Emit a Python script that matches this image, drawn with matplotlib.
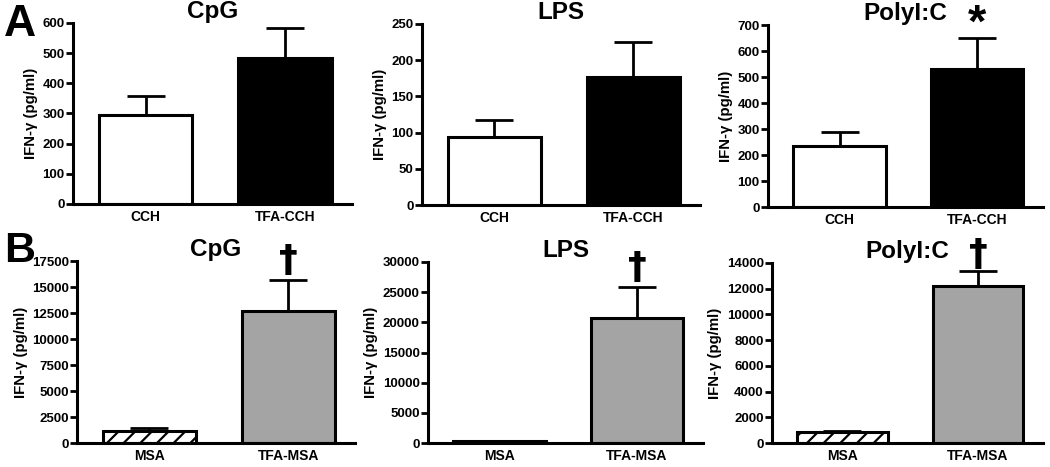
import numpy as np
import matplotlib
matplotlib.use('Agg')
import matplotlib.pyplot as plt

plt.rcParams['font.family'] = ['Liberation Sans', 'DejaVu Sans']
plt.rcParams['font.weight'] = 'bold'
plt.rcParams['hatch.linewidth'] = 1.6

# 데이터
titles = ['CpG', 'LPS', 'PolyI:C']
groups_a = ['CCH', 'TFA-CCH']
groups_b = ['MSA', 'TFA-MSA']

mean_a = [[295, 485], [94, 177], [233, 530]]
err_top_a = [[357, 583], [117, 225], [290, 651]]
ymax_a = [600, 250, 700]
ystep_a = [100, 50, 100]
mark_a = ['', '', '*']

mean_b = [[1200, 12700], [250, 20700], [850, 12200]]
err_top_b = [[1470, 15700], [300, 25800], [960, 13400]]
ymax_b = [17500, 30000, 14000]
ystep_b = [2500, 5000, 2000]
mark_b = ['†', '†', '†']

W, H = 1050, 467
fig = plt.figure(figsize=(10.5, 4.67), dpi=100)

# 축 위치 (픽셀: left, right, top, bottom)
boxes_a = [(73, 352, 23, 204), (422, 700, 24, 205), (768, 1043, 25, 207)]
boxes_b = [(77, 355, 261, 443), (428, 703, 262, 443), (772, 1043, 263, 443)]
# 기호 위치 (ymax 비율)
off_a = [0, 0, 0.07]
off_b = [0.105, 0.105, 0.085]


def draw_panel(box, title, groups, means, tops, ymax, ystep, mark, off, row):
    l, r, t, b = box
    ax = fig.add_axes([l / W, 1 - b / H, (r - l) / W, (b - t) / H])
    x = np.arange(len(groups))
    if row == 'A':
        colors = ['white', 'black']
        hatches = [None, None]
    else:
        colors = ['white', '#a4a4a4']
        hatches = ['//', None]
    for i in range(len(groups)):
        ax.bar(x[i], means[i], width=0.67, color=colors[i], edgecolor='black',
               linewidth=2.2, hatch=hatches[i], zorder=2)
        ax.errorbar(x[i], means[i], yerr=[[0], [tops[i] - means[i]]], fmt='none',
                    ecolor='black', elinewidth=2.0, capsize=14, capthick=2.0, zorder=1)
    ax.set_xlim(-0.52, 1.48)
    ax.set_ylim(0, ymax)
    ax.set_yticks(np.arange(0, ymax + 1, ystep))
    ax.set_xticks(x)
    ax.set_xticklabels(groups, fontsize=10, fontweight='bold')
    for lab in ax.get_yticklabels():
        lab.set_fontsize(9.5)
        lab.set_fontweight('bold')
    ax.tick_params(axis='y', width=2, length=5, pad=1)
    ax.tick_params(axis='x', length=0, pad=4)
    for s in ['top', 'right']:
        ax.spines[s].set_visible(False)
    for s in ['left', 'bottom']:
        ax.spines[s].set_linewidth(2.2)
    ax.set_ylabel('IFN-γ (pg/ml)', fontsize=10.8, fontweight='bold', labelpad=3)
    ax.set_title(title, fontsize=17.5, fontweight='bold', pad=2)
    if mark == '*':
        ax.text(x[1], tops[1] + ymax * off, mark, ha='center', va='center',
                fontsize=34, fontweight='bold', clip_on=False)
    elif mark:
        ax.text(x[1], tops[1] + ymax * off, mark, ha='center', va='center',
                fontsize=27, fontweight='bold', family='DejaVu Sans', clip_on=False)
    return ax


for i in range(3):
    draw_panel(boxes_a[i], titles[i], groups_a, mean_a[i], err_top_a[i],
               ymax_a[i], ystep_a[i], mark_a[i], off_a[i], 'A')
    draw_panel(boxes_b[i], titles[i], groups_b, mean_b[i], err_top_b[i],
               ymax_b[i], ystep_b[i], mark_b[i], off_b[i], 'B')

fig.text(4 / W, 1 - 25 / H, 'A', fontsize=32, fontweight='bold', va='center', ha='left')
fig.text(4 / W, 1 - 251 / H, 'B', fontsize=31, fontweight='bold', va='center', ha='left')

fig.savefig('out.png', dpi=100)
